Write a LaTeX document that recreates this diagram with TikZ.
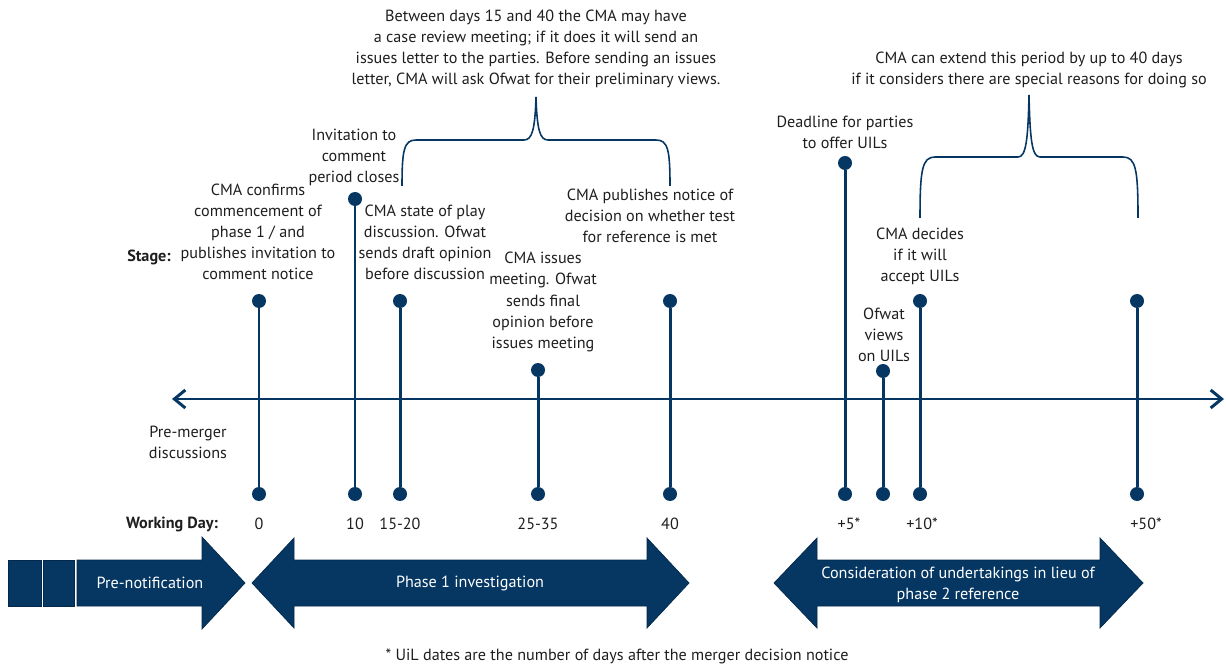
\documentclass[tikz,border=0pt]{standalone}
\usepackage{fontspec}
\setmainfont{PT Sans}
\usetikzlibrary{arrows.meta}
\definecolor{navy}{RGB}{5,55,98}
\definecolor{navyd}{RGB}{2,40,75}
\definecolor{txt}{RGB}{30,30,30}
\begin{document}
\begin{tikzpicture}[x=0.02cm,y=-0.02cm,
  every node/.style={font=\fontsize{9.2}{12}\selectfont, text=txt},
  lbl/.style={align=center, inner sep=0pt},
  boldlbl/.style={inner sep=0pt, font=\fontsize{9.2}{12}\selectfont\bfseries},
  dot/.style={circle, fill=navy, inner sep=0pt, minimum size=0.28cm},
  stem/.style={draw=navy, line width=1.7pt},
  brace/.style={draw=navy, line width=0.9pt},
  band/.style={fill=navy, draw=navyd, line width=0.4pt},
  bandtxt/.style={align=center, inner sep=0pt, text=white},
]
\useasboundingbox (0,0) rectangle (1226,668);

% axis
\coordinate (axL) at (172,399);
\coordinate (axR) at (1224,399);
\draw[navy, line width=1.7pt, {Straight Barb[length=0.22cm,width=0.36cm]}-{Straight Barb[length=0.22cm,width=0.36cm]}] (axL) -- (axR);

% stems with dots
\foreach \n/\x/\yt in {a/259/301, b/355/199, c/400/301, d/538/370, e/670/301, f/845/163, g/883/371, h/920/301, i/1137/301}{
  \node[dot] (t\n) at (\x,\yt) {};
  \node[dot] (b\n) at (\x,494) {};
  \draw[stem] (t\n) -- (b\n);
}

% labels
\node[boldlbl] (stage) at (149,257) {Stage:};
\node[boldlbl] (wday) at (172,524) {Working Day:};
\node[lbl] (premerger) at (188,442) {Pre-merger\\discussions};

\node[lbl] (la) at (258,232) {CMA confirms\\commencement of\\phase 1 / and\\publishes invitation to\\comment notice};
\node[lbl] (lb) at (354,157) {Invitation to\\comment\\period closes};
\node[lbl] (lc) at (425,242) {CMA state of play\\discussion. Ofwat\\sends draft opinion\\before discussion};
\node[lbl] (ld) at (543,302) {CMA issues\\meeting. Ofwat\\sends final\\opinion before\\issues meeting};
\node[lbl] (le) at (650,216) {CMA publishes notice of\\decision on whether test\\for reference is met};
\node[lbl] (lf) at (845,132) {Deadline for parties\\to offer UILs};
\node[lbl] (lg) at (884,335) {Ofwat\\views\\on UILs};
\node[lbl] (lh) at (920,256) {CMA decides\\if it will\\accept UILs};

\node[lbl] (note1) at (536,49) {Between days 15 and 40 the CMA may have\\a case review meeting; if it does it will send an\\issues letter to the parties. Before sending an issues\\letter, CMA will ask Ofwat for their preliminary views.};
\node[lbl] (note2) at (1029,70) {CMA can extend this period by up to 40 days\\if it considers there are special reasons for doing so};

% braces
\draw[brace] (402,186) .. controls (402,150) and (404,140) .. (416,140) -- (524,140)
  .. controls (532,140) and (535,130) .. (536,97)
  .. controls (537,130) and (540,140) .. (548,140) -- (656,140)
  .. controls (668,140) and (670,150) .. (670,186);
\draw[brace] (920,218) .. controls (920,170) and (922,157) .. (935,157) -- (1018,157)
  .. controls (1026,157) and (1028,140) .. (1029,95)
  .. controls (1030,140) and (1032,157) .. (1040,157) -- (1123,157)
  .. controls (1136,157) and (1138,170) .. (1138,218);

% day labels
\node[lbl] (d0) at (259,524) {0};
\node[lbl] (d10) at (355,524) {10};
\node[lbl] (d15) at (400,524) {15-20};
\node[lbl] (d25) at (538,524) {25-35};
\node[lbl] (d40) at (670,524) {40};
\node[lbl] (d5s) at (849,524) {+5*};
\node[lbl] (d10s) at (922,524) {+10*};
\node[lbl] (d50s) at (1146,524) {+50*};

% bottom bands
\fill[band] (8,560) rectangle (41,606);
\fill[band] (43,560) rectangle (74,606);
\filldraw[band] (77,560) -- (202,560) -- (202,537) -- (245,583) -- (202,629) -- (202,606) -- (77,606) -- cycle;
\filldraw[band] (252,583) -- (294,538) -- (294,560) -- (647,560) -- (647,538) -- (689,583) -- (647,628) -- (647,606) -- (294,606) -- (294,628) -- cycle;
\filldraw[band] (774,583) -- (817,538) -- (817,560) -- (1100,560) -- (1100,538) -- (1143,583) -- (1100,628) -- (1100,606) -- (817,606) -- (817,628) -- cycle;
\node[bandtxt] (pn) at (150,583) {Pre-notification};
\node[bandtxt] (p1) at (470,583) {Phase 1 investigation};
\node[bandtxt] (cu) at (958,585) {Consideration of undertakings in lieu of\\phase 2 reference};

\node[lbl] (foot) at (617,656) {* UiL dates are the number of days after the merger decision notice};
\end{tikzpicture}
\end{document}
